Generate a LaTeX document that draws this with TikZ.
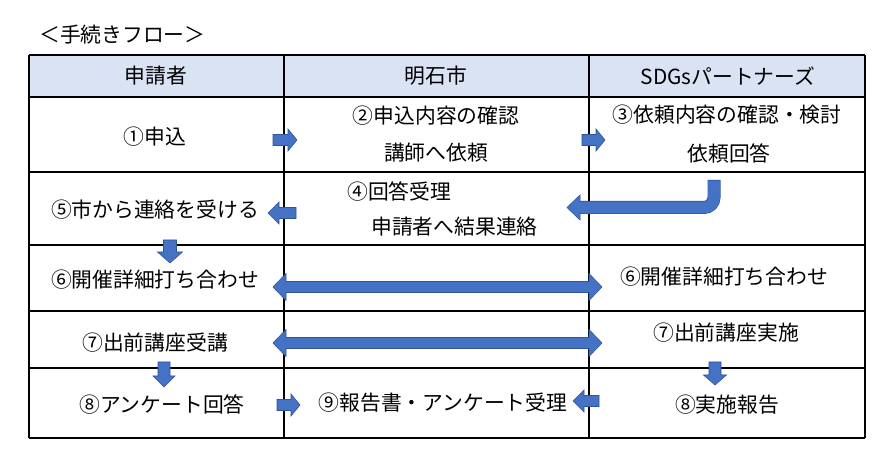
\documentclass[tikz,border=0pt]{standalone}
\usepackage{fontspec}
\setmainfont{Noto Sans CJK JP}
\definecolor{hdr}{HTML}{DAE3F3}
\definecolor{arrfill}{HTML}{4472C4}
\definecolor{arrline}{HTML}{2F5597}
\begin{document}
\begin{tikzpicture}[x=1pt,y=-1pt,
  txt/.style={font=\fontsize{20.8}{24}\selectfont, inner sep=0pt},
  gridline/.style={line width=1.1pt, draw=black},
  blk/.style={fill=arrfill, draw=arrline, line width=0.6pt, line join=miter},
  pics/barr/.style n args={4}{code={\path[blk] (0,-#4) -- (#1-#2,-#4) -- (#1-#2,-#3) -- (#1,0) -- (#1-#2,#3) -- (#1-#2,#4) -- (0,#4) -- cycle;}},
  pics/darr/.style n args={4}{code={\path[blk] (0,0) -- (#2,-#3) -- (#2,-#4) -- (#1-#2,-#4) -- (#1-#2,-#3) -- (#1,0) -- (#1-#2,#3) -- (#1-#2,#4) -- (#2,#4) -- (#2,#3) -- cycle;}}]
\useasboundingbox (0,0) rectangle (895,470);
\fill[white] (0,0) rectangle (895,470);
% table
\fill[hdr] (29,55) rectangle (865,97);
\foreach \yy in {55,97,172,245,311,368,438} \draw[gridline] (29,\yy) -- (865,\yy);
\foreach \xx in {29,284,589,865} \draw[gridline] (\xx,55) -- (\xx,438);
% title and headers
\node[txt, anchor=west] (title) at (39,35) {＜手続きフロー＞};
\node[txt] (h1) at (156,76) {申請者};
\node[txt] (h2) at (436,76) {明石市};
\node[txt] (h3) at (728,76) {SDGsパートナーズ};
% row 1
\node[txt] (r1a) at (155,137) {①申込};
\node[txt] (r1b) at (436,116) {②申込内容の確認};
\node[txt] (r1c) at (436,153) {講師へ依頼};
\node[txt] (r1d) at (727,115) {③依頼内容の確認・検討};
\node[txt] (r1e) at (729,153) {依頼回答};
% row 2
\node[txt] (r2a) at (155,210) {⑤市から連絡を受ける};
\node[txt, anchor=west] (r2b) at (347,192) {④回答受理};
\node[txt, anchor=west] (r2c) at (371,227) {申請者へ結果連絡};
% row 3
\node[txt] (r3a) at (155,280) {⑥開催詳細打ち合わせ};
\node[txt] (r3b) at (724,277) {⑥開催詳細打ち合わせ};
% row 4
\node[txt] (r4a) at (155,343) {⑦出前講座受講};
\node[txt] (r4b) at (726,333) {⑦出前講座実施};
% row 5
\node[txt] (r5a) at (162,405) {⑧アンケート回答};
\node[txt] (r5b) at (443,403) {⑨報告書・アンケート受理};
\node[txt] (r5c) at (727,405) {⑧実施報告};
% arrows
\pic at (273,140) {barr={24}{9}{11}{5.5}};
\pic at (582,140) {barr={23}{9}{11}{5.5}};
\pic[rotate=180] at (296,213) {barr={28}{11}{11}{5.5}};
\pic[rotate=-90] at (170,240) {barr={23}{11}{12.5}{6.5}};
\pic at (273,287) {darr={329}{13}{13.5}{5.5}};
\pic at (273,343) {darr={329}{13}{13.5}{5.5}};
\pic[rotate=-90] at (164,362) {barr={25}{11}{11}{6}};
\pic[rotate=-90] at (715,362) {barr={23}{10}{11.5}{6}};
\pic at (277,405) {barr={23}{9}{11}{5.5}};
\pic[rotate=180] at (599,401) {barr={26}{11}{11}{5.5}};
% bent arrow
\draw[line width=13pt, arrline, rounded corners=10] (714,180) |- (577,207.5);
\draw[line width=11.6pt, arrfill, rounded corners=9.5] (714,180.6) |- (577,207.5);
\fill[arrfill] (580,195) -- (567,207.5) -- (580,220) -- cycle;
\draw[arrline, line width=0.6pt] (580,201.7) -- (580,195) -- (567,207.5) -- (580,220) -- (580,213.3);
\end{tikzpicture}
\end{document}
